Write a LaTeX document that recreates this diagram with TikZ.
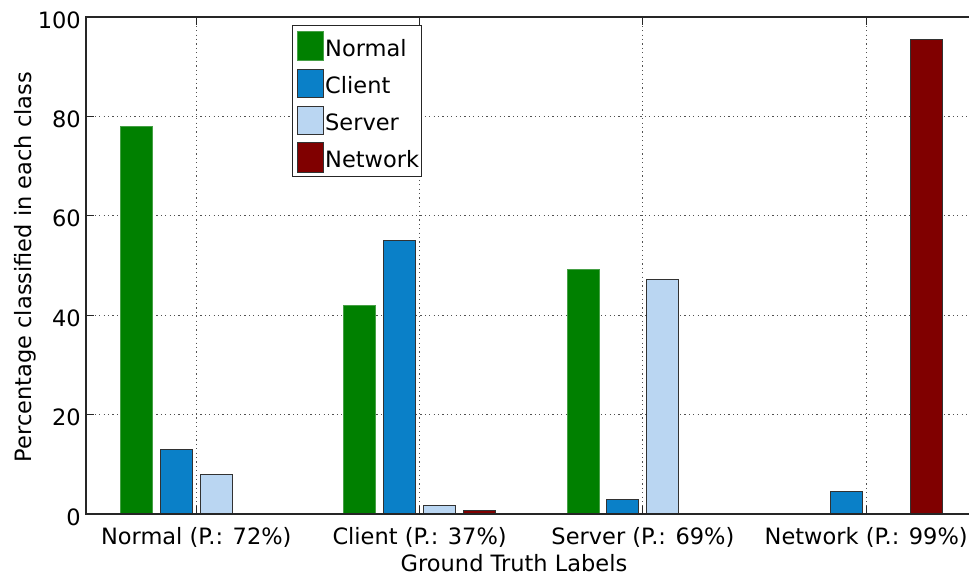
\documentclass[tikz,border=0pt]{standalone}
\usepackage{fontspec}
\setmainfont{DejaVu Sans}
\definecolor{cnormal}{RGB}{0,128,0}
\definecolor{cnormaledge}{RGB}{70,160,70}
\definecolor{cclient}{RGB}{10,128,200}
\definecolor{cserver}{RGB}{186,214,242}
\definecolor{cnetwork}{RGB}{128,0,0}
\definecolor{axisgray}{RGB}{38,38,38}
\definecolor{baredge}{RGB}{50,50,50}
\tikzset{
  lbl/.style={font=\fontsize{22.5bp}{27bp}\selectfont, inner sep=0pt, text=black},
  gridline/.style={axisgray!80, line width=0.9bp, dash pattern=on 1.2bp off 3.2bp},
  axisline/.style={axisgray, line width=1.1bp},
  tickmark/.style={axisgray, line width=1bp},
  barN/.style={fill=cnormal, draw=cnormaledge, line width=0.8bp},
  barC/.style={fill=cclient, draw=baredge, line width=0.9bp},
  barS/.style={fill=cserver, draw=baredge, line width=0.9bp},
  barW/.style={fill=cnetwork, draw=baredge, line width=0.9bp},
  legbox/.style={fill=white, draw=axisgray, line width=1bp},
}
\begin{document}
\begin{tikzpicture}[x=1bp, y=-1bp]
\useasboundingbox (0,0) rectangle (969,580);

% y value v sits at 514 - 4.97 v
% horizontal grid (20..80)
\foreach \v in {20,40,60,80}
  \draw[gridline] (86,{514-4.97*\v}) -- (969,{514-4.97*\v});
% vertical grid at the four group centres
\foreach \g in {196.3,419.6,642.9,866.2}
  \draw[gridline] (\g,17) -- (\g,514);

% bars: group centre / offset / value / style
\foreach \g/\o/\v/\s in {
  196.3/-60/78/barN, 196.3/-20/13/barC, 196.3/20/8/barS,
  419.6/-60/42/barN, 419.6/-20/55/barC, 419.6/20/1.8/barS, 419.6/60/0.75/barW,
  642.9/-60/49.2/barN, 642.9/-20/3/barC, 642.9/20/47.1/barS, 642.9/60/0.2/barW,
  866.2/-20/4.6/barC, 866.2/60/95.5/barW}
  \draw[\s] ({\g+\o-16},514) rectangle ({\g+\o+16},{514-4.97*\v});

% axes frame
\draw[axisline] (969,17) -- (86,17) -- (86,514) -- (969,514);

% ticks
\foreach \v in {0,20,40,60,80,100}
  \draw[tickmark] (86,{514-4.97*\v}) -- (94,{514-4.97*\v});
\foreach \g in {196.3,419.6,642.9,866.2} {
  \draw[tickmark] (\g,514) -- (\g,506);
  \draw[tickmark] (\g,17) -- (\g,25);
}

% y tick labels
\node[lbl, anchor=east] (y0)   at (81,{517-4.97*0})   {0};
\node[lbl, anchor=east] (y20)  at (81,{517-4.97*20})  {20};
\node[lbl, anchor=east] (y40)  at (81,{517-4.97*40})  {40};
\node[lbl, anchor=east] (y60)  at (81,{517-4.97*60})  {60};
\node[lbl, anchor=east] (y80)  at (81,{517-4.97*80})  {80};
\node[lbl, anchor=east] (y100) at (81,{517-4.97*100}) {100};

% x tick labels
\node[lbl, anchor=base] (xN) at (196.3,544.3) {Normal (P.: 72\%)};
\node[lbl, anchor=base] (xC) at (419.6,544.3) {Client (P.: 37\%)};
\node[lbl, anchor=base] (xS) at (642.9,544.3) {Server (P.: 69\%)};
\node[lbl, anchor=base] (xW) at (866.2,544.3) {Network (P.: 99\%)};

% axis titles
\node[lbl, anchor=base] (xtitle) at (514,571.5) {Ground Truth Labels};
\node[lbl, anchor=base, rotate=90] (ytitle) at (31,267) {Percentage classified in each class};

% legend
\draw[legbox] (292,26) rectangle (421.3,176.7);
\node[barN, minimum width=26bp, minimum height=29.5bp, inner sep=0pt, anchor=north west] (kN) at (296.7,31) {};
\node[barC, minimum width=26bp, minimum height=28.5bp, inner sep=0pt, anchor=north west] (kC) at (296.7,69) {};
\node[barS, minimum width=26bp, minimum height=28.5bp, inner sep=0pt, anchor=north west] (kS) at (296.7,105.7) {};
\node[barW, minimum width=26bp, minimum height=29.5bp, inner sep=0pt, anchor=north west] (kW) at (296.7,142.3) {};
\node[lbl, anchor=base west] (tN) at (325,56.7) {Normal};
\node[lbl, anchor=base west] (tC) at (325,94) {Client};
\node[lbl, anchor=base west] (tS) at (325,130.7) {Server};
\node[lbl, anchor=base west] (tW) at (325,167.7) {Network};
\end{tikzpicture}
\end{document}
